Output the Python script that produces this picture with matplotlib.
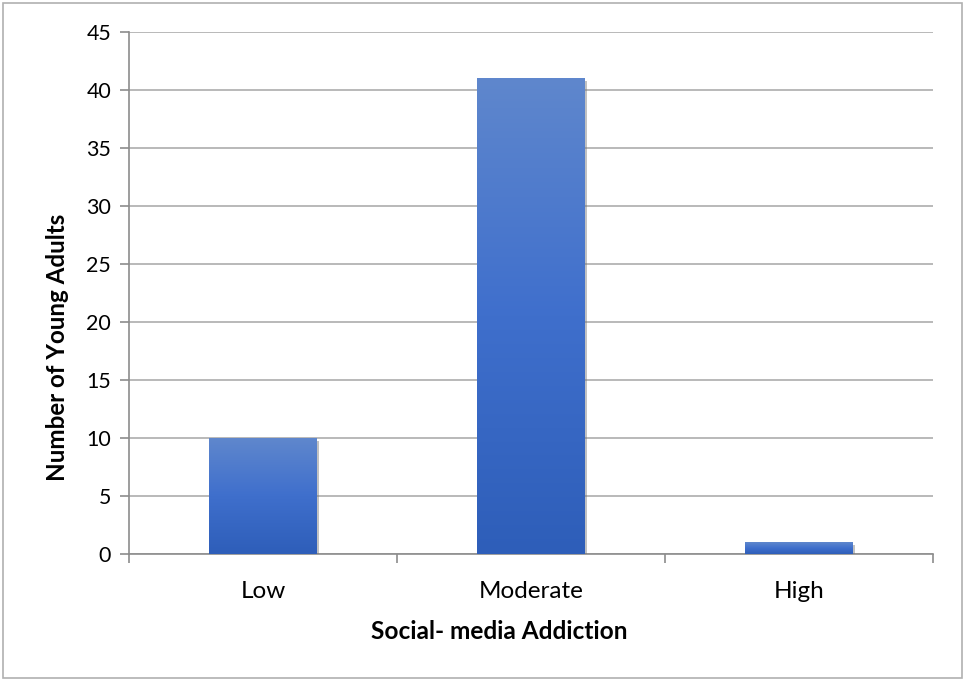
import numpy as np
import matplotlib.pyplot as plt
import matplotlib.patheffects as pe
from matplotlib.colors import LinearSegmentedColormap
from matplotlib.patches import Rectangle

categories = ['Low', 'Moderate', 'High']
counts = [10, 41, 1]
yticks = [0, 5, 10, 15, 20, 25, 30, 35, 40, 45]

plt.rcParams['font.family'] = ['Lato', 'DejaVu Sans']

W, H = 963, 679
fig = plt.figure(figsize=(W / 100, H / 100), dpi=100)
# outer chart border
fig.patches.append(Rectangle((3 / W, 1 / H), 958.5 / W, 675 / H, transform=fig.transFigure,
                             fill=False, edgecolor='#b0b0b0', linewidth=1.2))
# plot area in pixels: x 129..933, y 32..554
ax = fig.add_axes([129 / W, 1 - 554 / H, 804 / W, 522 / H])

x = np.arange(len(categories))
bars = ax.bar(x, counts, width=0.4, color='#4472c4', zorder=3)

# gradient fill with soft shadow, Excel style
cmap = LinearSegmentedColormap.from_list('grad', ['#2e5eb9', '#3f6fcc', '#5f87cd'])
grad = np.linspace(0, 1, 256).reshape(-1, 1)
for b in bars:
    b.set_path_effects([pe.SimplePatchShadow(offset=(1.5, -2), shadow_rgbFace='#777777', alpha=0.45),
                        pe.Normal()])
    x0, y0 = b.get_x(), b.get_y()
    im = ax.imshow(grad, cmap=cmap, origin='lower', aspect='auto', zorder=4,
                   extent=[x0, x0 + b.get_width(), y0, y0 + b.get_height()])
    im.set_clip_path(b)

ax.set_xlim(-0.5, 2.5)
ax.set_ylim(0, 45)
ax.set_yticks(yticks)
ax.yaxis.grid(True, color='#a6a6a6', linewidth=1.1, zorder=0)
ax.set_axisbelow(True)

ax.set_xticks([-0.5, 0.5, 1.5, 2.5])
ax.set_xticklabels([])
ax.set_xticks(x, minor=True)
ax.set_xticklabels(categories, minor=True)

for s in ['top', 'right']:
    ax.spines[s].set_visible(False)
for s in ['left', 'bottom']:
    ax.spines[s].set_color('#8c8c8c')
    ax.spines[s].set_linewidth(1.2)

# size fonts so text widths match the reference (Calibri-like metrics)
fig.canvas.draw()
rend = fig.canvas.get_renderer()


def text_px(s, size, weight='normal'):
    t = fig.text(0, 0, s, fontsize=size, fontweight=weight)
    bb = t.get_window_extent(rend)
    t.remove()
    return bb.width


tick_fs = 14 * 105 / text_px('Moderate', 14)
ytick_fs = 14 * 25 / text_px('30', 14)
xlab_fs = 14 * 258 / text_px('Social- media Addiction', 14, 'bold')
ylab_fs = 14 * 269 / text_px('Number of Young Adults', 14, 'bold')

px = 72 / 100  # points per pixel
ax.tick_params(axis='x', which='major', length=9 * px, width=1.2, color='#8c8c8c')
ax.tick_params(axis='x', which='minor', length=0, pad=4, labelsize=tick_fs)
ax.tick_params(axis='y', length=9 * px, width=1.2, color='#8c8c8c', labelsize=ytick_fs, pad=9 * px)

ax.set_xlabel('Social- media Addiction', fontsize=xlab_fs, fontweight='bold')
ax.set_ylabel('Number of Young Adults', fontsize=ylab_fs, fontweight='bold')

# place axis titles by baseline (pixel targets from the reference)
xl = ax.xaxis.label
xl.set_verticalalignment('baseline')
ax.xaxis.set_label_coords((499 - 129) / 804, (554 - 639) / 522)
yl = ax.yaxis.label
yl.set_verticalalignment('baseline')
ax.yaxis.set_label_coords((65 - 129) / 804, (554 - 347.5) / 522)

# shift category labels so their baseline sits at y=598
fig.canvas.draw()
lab = ax.xaxis.get_minorticklabels()[1]
bb = lab.get_window_extent(rend)
_, _, d = rend.get_text_width_height_descent('lp', lab.get_fontproperties(), False)
baseline = H - (bb.y0 + d)
ax.tick_params(axis='x', which='minor', pad=4 + (598 - baseline) * px)

fig.savefig('out.png', dpi=100)
